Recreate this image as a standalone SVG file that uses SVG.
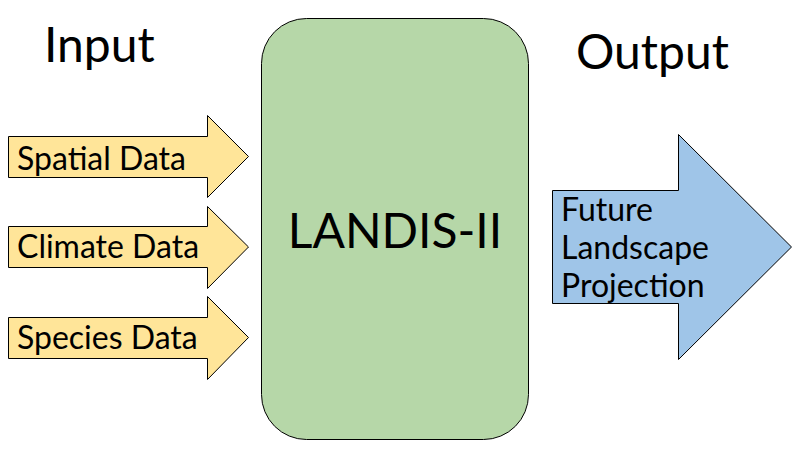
<svg xmlns="http://www.w3.org/2000/svg" width="799" height="457" viewBox="0 0 799 457">
<style>
text{font-family:Lato,"Liberation Sans",sans-serif;fill:#000}
.in{fill:#FFE599;stroke:#000;stroke-width:1}
.lbl{font-size:32px}
.big{font-size:48px}
</style>
<rect width="799" height="457" fill="#fff"/>
<text class="big" x="44" y="62">Input</text>
<text class="big" x="576" y="69">Output</text>
<g id="landis">
<rect x="261.5" y="18.5" width="267" height="421" rx="45" ry="45" fill="#B6D7A8" stroke="#000"/>
<text class="big" x="395" y="248" text-anchor="middle">LANDIS-II</text>
</g>
<g id="spatial">
<path class="in" d="M8.5 136.5H207.5V115.5L248.5 156.5L207.5 197.5V177.5H8.5Z"/>
<text class="lbl" x="17" y="170">Spatial Data</text>
</g>
<g id="climate">
<path class="in" d="M8.5 226.5H207.5V206.5L248.5 247L207.5 288.5V267.5H8.5Z"/>
<text class="lbl" x="17" y="258">Climate Data</text>
</g>
<g id="species">
<path class="in" d="M8.5 317.5H207.5V296.5L248.5 337.5L207.5 379.5V358.5H8.5Z"/>
<text class="lbl" x="17" y="349">Species Data</text>
</g>
<g id="output">
<path d="M552.5 190.5H678.5V134.5L791.5 247L678.5 359.5V303.5H552.5Z" fill="#9FC5E8" stroke="#000"/>
<text class="lbl" x="561" y="221">Future</text>
<text class="lbl" x="561" y="259">Landscape</text>
<text class="lbl" x="561" y="297">Projection</text>
</g>
<g id="connectors"/>
</svg>
